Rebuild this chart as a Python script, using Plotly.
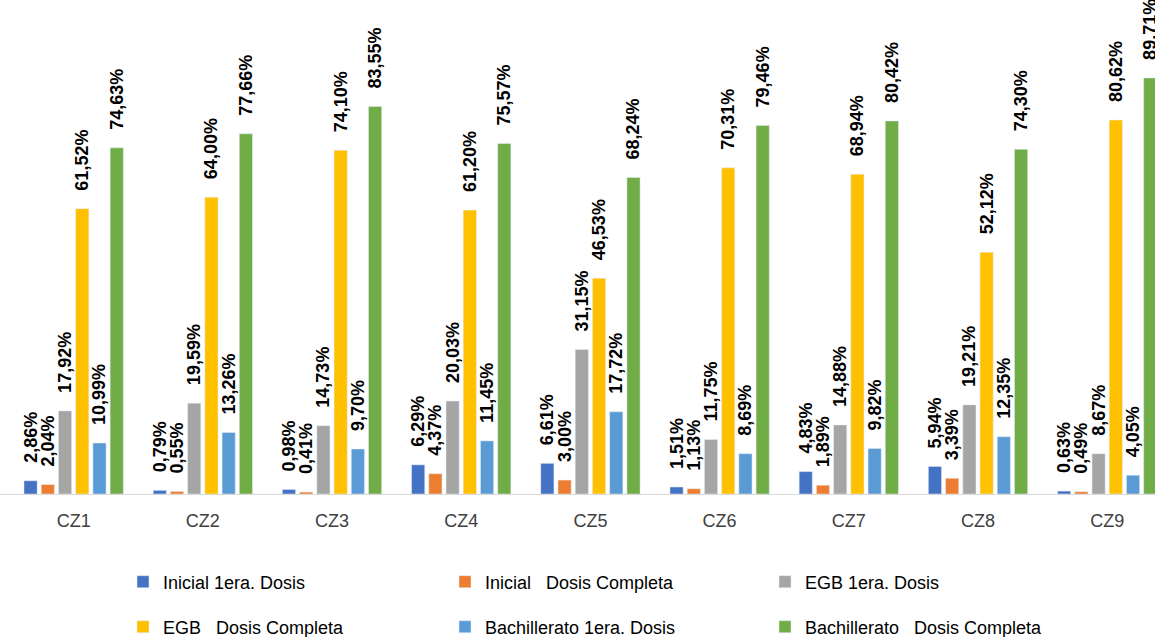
import plotly.graph_objects as go

categories = ["CZ1", "CZ2", "CZ3", "CZ4", "CZ5", "CZ6", "CZ7", "CZ8", "CZ9"]
series_names = [
    "Inicial 1era. Dosis",
    "Inicial   Dosis Completa",
    "EGB 1era. Dosis",
    "EGB   Dosis Completa",
    "Bachillerato 1era. Dosis",
    "Bachillerato   Dosis Completa",
]
inicial_1 = [2.86, 0.79, 0.98, 6.29, 6.61, 1.51, 4.83, 5.94, 0.63]
inicial_c = [2.04, 0.55, 0.41, 4.37, 3.00, 1.13, 1.89, 3.39, 0.49]
egb_1 = [17.92, 19.59, 14.73, 20.03, 31.15, 11.75, 14.88, 19.21, 8.67]
egb_c = [61.52, 64.00, 74.10, 61.20, 46.53, 70.31, 68.94, 52.12, 80.62]
bach_1 = [10.99, 13.26, 9.70, 11.45, 17.72, 8.69, 9.82, 12.35, 4.05]
bach_c = [74.63, 77.66, 83.55, 75.57, 68.24, 79.46, 80.42, 74.30, 89.71]
colors = ["#4472C4", "#ED7D31", "#A5A5A5", "#FFC000", "#5B9BD5", "#70AD47"]

all_series = [inicial_1, inicial_c, egb_1, egb_c, bach_1, bach_c]

# legend placement: 2 rows x 3 columns (x in paper fraction, y in container fraction)
leg_x = [123 / 1155, 445 / 1155, 765 / 1155]
leg_y = [1 - 582 / 637, 1 - 627 / 637]

fig = go.Figure()
for i, (name, vals, col) in enumerate(zip(series_names, all_series, colors)):
    txt = ["\u00a0\u00a0\u00a0" + f"{v:.2f}".replace(".", ",") + "%" for v in vals]
    lname = "legend" if i == 0 else f"legend{i+1}"
    fig.add_trace(go.Bar(
        x=categories, y=vals, name=name, marker_color=col,
        text=txt, textposition="outside", textangle=-90,
        textfont=dict(family="Liberation Sans, Arial, sans-serif", size=18,
                      color="#000000", weight="bold"),
        constraintext="none", cliponaxis=False,
        legend=lname,
    ))

legend_common = dict(
    orientation="h", xanchor="left", yanchor="middle", yref="container",
    font=dict(family="Liberation Sans, Arial, sans-serif", size=18, color="#000000"),
    itemwidth=30, bgcolor="rgba(0,0,0,0)",
)
layout_legends = {}
for i in range(6):
    key = "legend" if i == 0 else f"legend{i+1}"
    layout_legends[key] = dict(legend_common, x=leg_x[i % 3], y=leg_y[i // 3])

fig.update_layout(
    width=1155, height=637,
    margin=dict(l=0, r=0, t=0, b=143, autoexpand=False),
    paper_bgcolor="white", plot_bgcolor="white",
    barmode="group", bargap=0.20, bargroupgap=0.235,
    showlegend=True,
    xaxis=dict(
        showline=True, linecolor="#D9D9D9", linewidth=1, automargin=False,
        range=[-0.57, 8.37],
        ticks="", ticklabelstandoff=10,
        tickfont=dict(family="Liberation Sans, Arial, sans-serif", size=18, color="#404040"),
        showgrid=False,
    ),
    yaxis=dict(range=[0, 106.5], visible=False, showgrid=False),
    **layout_legends,
)

fig.write_html(
    "out.html",
    config={"displayModeBar": False},
    post_script="document.body.style.margin='0';document.body.style.overflow='hidden';",
)
